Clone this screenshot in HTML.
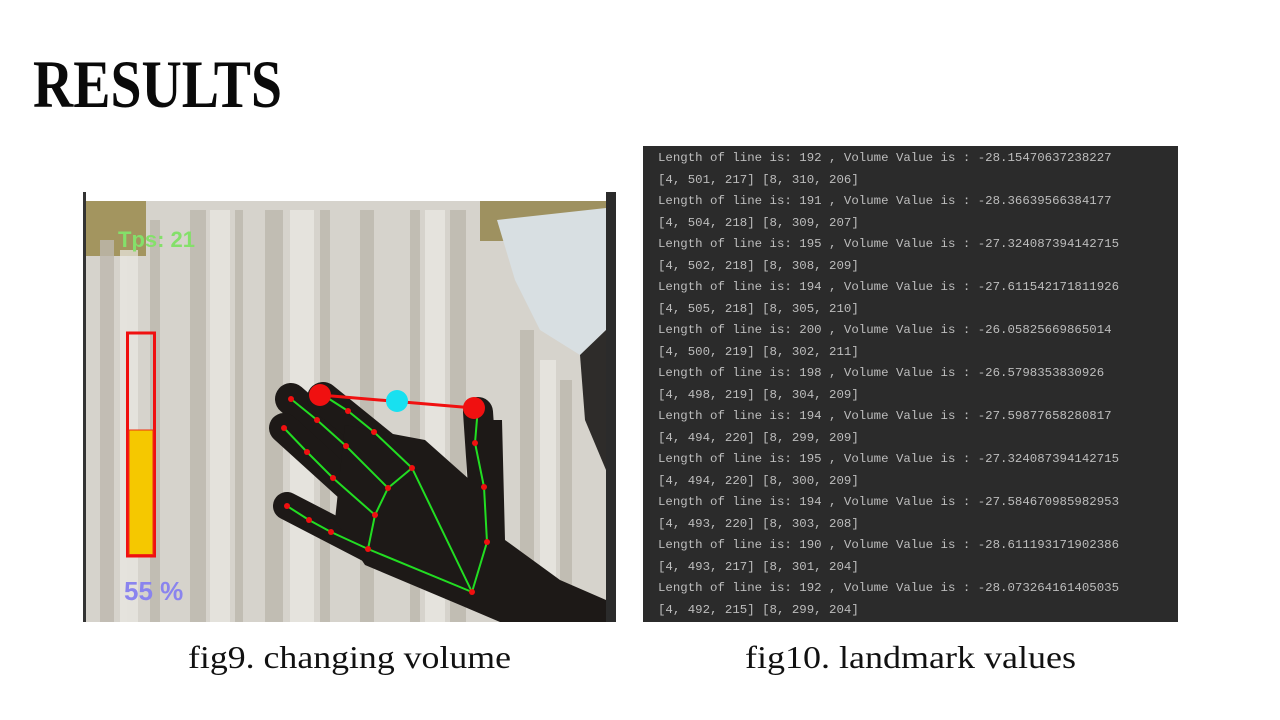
<!DOCTYPE html>
<html><head><meta charset="utf-8">
<style>
html,body{margin:0;padding:0;background:#fff;width:1280px;height:720px;overflow:hidden;}
#term{position:absolute;left:643px;top:146px;width:535px;height:476px;background:#2b2b2b;}
.tl{position:absolute;left:15px;font-family:"Liberation Mono","DejaVu Sans Mono",monospace;font-size:12.4px;color:#bdbdbd;white-space:pre;}
</style></head>
<body>
<svg width="1280" height="720" style="position:absolute;left:0;top:0">
  <text x="33" y="107" font-family="Liberation Serif, serif" font-weight="bold" font-size="68" textLength="249" lengthAdjust="spacingAndGlyphs" fill="#0a0a0a">RESULTS</text>

  <g>
    <rect x="83" y="192" width="533" height="430" fill="#fff"/>
    <rect x="83" y="192" width="3" height="430" fill="#333"/>
    <rect x="86" y="201" width="520" height="421" fill="#d6d3cc"/>
    <rect x="86" y="201" width="60" height="55" fill="#a3955f"/>
    <rect x="480" y="201" width="126" height="40" fill="#9e9160"/>
    <g fill="#bdb8ae" opacity="0.8">
      <rect x="100" y="240" width="14" height="382"/>
      <rect x="150" y="220" width="10" height="402"/>
      <rect x="190" y="210" width="16" height="412"/>
      <rect x="235" y="210" width="8" height="412"/>
      <rect x="265" y="210" width="18" height="412"/>
      <rect x="320" y="210" width="10" height="412"/>
      <rect x="360" y="210" width="14" height="412"/>
      <rect x="410" y="210" width="10" height="412"/>
      <rect x="450" y="210" width="16" height="412"/>
      <rect x="520" y="330" width="14" height="292"/>
      <rect x="560" y="380" width="12" height="242"/>
    </g>
    <g fill="#ebe9e4" opacity="0.7">
      <rect x="120" y="250" width="18" height="372"/>
      <rect x="210" y="210" width="20" height="412"/>
      <rect x="290" y="210" width="24" height="412"/>
      <rect x="425" y="210" width="20" height="412"/>
      <rect x="540" y="360" width="16" height="262"/>
    </g>
    <polygon points="497,220 606,208 606,330 580,355 540,330 515,280" fill="#d8dfe2"/>
    <polygon points="606,330 606,470 585,420 580,355" fill="#2e2c2a"/>
    <g stroke="#1d1917" stroke-linecap="round" fill="none">
      <line x1="291" y1="399" x2="395" y2="490" stroke-width="32"/>
      <line x1="284" y1="428" x2="380" y2="515" stroke-width="30"/>
      <line x1="287" y1="506" x2="370" y2="549" stroke-width="28"/>
      <line x1="323" y1="398" x2="412" y2="470" stroke-width="32"/>
      <line x1="478" y1="412" x2="487" y2="545" stroke-width="30"/>
    </g>
    <polygon points="345,425 425,440 470,480 468,420 502,420 505,540 560,580 606,600 606,622 500,622 460,605 365,565 335,520" fill="#1d1917"/>
    <rect x="127.5" y="333" width="27" height="223" fill="none" stroke="#f01010" stroke-width="3"/>
    <rect x="129" y="430" width="24" height="124.5" fill="#f5c800" stroke="#f03010" stroke-width="1"/>
    <text x="124" y="600" font-family="Liberation Sans, sans-serif" font-weight="bold" font-size="26" fill="#8a84ee">55 %</text>
    <text x="118" y="247" font-family="Liberation Sans, sans-serif" font-weight="bold" font-size="22" fill="#84e06a">Tps: 21</text>
    <g stroke="#22dd22" stroke-width="2" fill="none">
      <polyline points="472,592 487,542 484,487 475,443 478,407"/>
      <polyline points="472,592 412,468 374,432 348,411 323,395"/>
      <polyline points="412,468 388,488 346,446 317,420 291,399"/>
      <polyline points="388,488 375,515 333,478 307,452 284,428"/>
      <polyline points="375,515 368,549 331,532 309,520 287,506"/>
      <line x1="368" y1="549" x2="472" y2="592"/>
    </g>
    <g fill="#f01010">
      <circle cx="472" cy="592" r="3"/><circle cx="487" cy="542" r="3"/><circle cx="484" cy="487" r="3"/><circle cx="475" cy="443" r="3"/>
      <circle cx="412" cy="468" r="3"/><circle cx="374" cy="432" r="3"/><circle cx="348" cy="411" r="3"/>
      <circle cx="388" cy="488" r="3"/><circle cx="346" cy="446" r="3"/><circle cx="317" cy="420" r="3"/><circle cx="291" cy="399" r="3"/>
      <circle cx="375" cy="515" r="3"/><circle cx="333" cy="478" r="3"/><circle cx="307" cy="452" r="3"/><circle cx="284" cy="428" r="3"/>
      <circle cx="368" cy="549" r="3"/><circle cx="331" cy="532" r="3"/><circle cx="309" cy="520" r="3"/><circle cx="287" cy="506" r="3"/>
    </g>
    <line x1="320" y1="395" x2="474" y2="408" stroke="#f01010" stroke-width="3"/>
    <circle cx="320" cy="395" r="11" fill="#f01010"/>
    <circle cx="474" cy="408" r="11" fill="#f01010"/>
    <circle cx="397" cy="401" r="11" fill="#18e0f0"/>
    <rect x="606" y="192" width="10" height="430" fill="#2b2b2b"/>
  </g>

  <text x="188" y="668" font-family="Liberation Serif, serif" font-size="32" textLength="323" lengthAdjust="spacingAndGlyphs" fill="#111">fig9. changing volume</text>
  <text x="745" y="668" font-family="Liberation Serif, serif" font-size="32" textLength="331" lengthAdjust="spacingAndGlyphs" fill="#111">fig10. landmark values</text>
</svg>

<div id="term">
<div class="tl" style="top:5px">Length of line is: 192 , Volume Value is : -28.15470637238227</div>
<div class="tl" style="top:26.5px">[4, 501, 217] [8, 310, 206]</div>
<div class="tl" style="top:48px">Length of line is: 191 , Volume Value is : -28.36639566384177</div>
<div class="tl" style="top:69.5px">[4, 504, 218] [8, 309, 207]</div>
<div class="tl" style="top:91px">Length of line is: 195 , Volume Value is : -27.324087394142715</div>
<div class="tl" style="top:112.5px">[4, 502, 218] [8, 308, 209]</div>
<div class="tl" style="top:134px">Length of line is: 194 , Volume Value is : -27.611542171811926</div>
<div class="tl" style="top:155.5px">[4, 505, 218] [8, 305, 210]</div>
<div class="tl" style="top:177px">Length of line is: 200 , Volume Value is : -26.05825669865014</div>
<div class="tl" style="top:198.5px">[4, 500, 219] [8, 302, 211]</div>
<div class="tl" style="top:220px">Length of line is: 198 , Volume Value is : -26.5798353830926</div>
<div class="tl" style="top:241.5px">[4, 498, 219] [8, 304, 209]</div>
<div class="tl" style="top:263px">Length of line is: 194 , Volume Value is : -27.59877658280817</div>
<div class="tl" style="top:284.5px">[4, 494, 220] [8, 299, 209]</div>
<div class="tl" style="top:306px">Length of line is: 195 , Volume Value is : -27.324087394142715</div>
<div class="tl" style="top:327.5px">[4, 494, 220] [8, 300, 209]</div>
<div class="tl" style="top:349px">Length of line is: 194 , Volume Value is : -27.584670985982953</div>
<div class="tl" style="top:370.5px">[4, 493, 220] [8, 303, 208]</div>
<div class="tl" style="top:392px">Length of line is: 190 , Volume Value is : -28.611193171902386</div>
<div class="tl" style="top:413.5px">[4, 493, 217] [8, 301, 204]</div>
<div class="tl" style="top:435px">Length of line is: 192 , Volume Value is : -28.073264161405035</div>
<div class="tl" style="top:456.5px">[4, 492, 215] [8, 299, 204]</div>
</div>
</body></html>
